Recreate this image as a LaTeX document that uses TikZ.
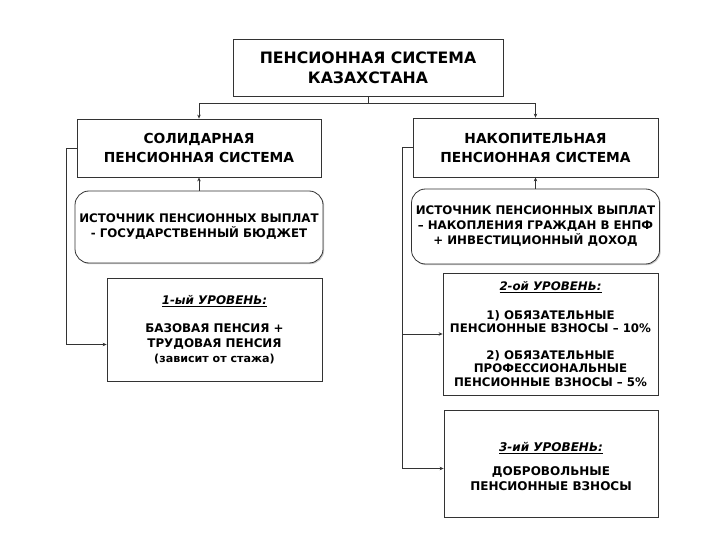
\documentclass[tikz,border=0pt]{standalone}
\usepackage{fontspec}
\setmainfont{DejaVu Sans}
\usetikzlibrary{arrows.meta,shadows,calc}
\begin{document}
\begin{tikzpicture}[x=1pt,y=-1pt,
  box/.style={draw=black!80, line width=0.8pt, fill=white, align=center, inner sep=0pt,
    drop shadow={shadow xshift=1.2pt, shadow yshift=-1.2pt, fill=black!35, opacity=0.6}},
  src/.style={box, rounded corners=14pt},
  arr/.style={draw=black!80, line width=0.8pt, -{Stealth[length=4pt,width=3.5pt]}},
  ttl/.style={font=\fontsize{15.7}{20}\selectfont\bfseries},
  sys/.style={font=\fontsize{13.8}{19}\selectfont\bfseries},
  srct/.style={font=\fontsize{11.8}{15}\selectfont\bfseries},
  lv1/.style={font=\fontsize{11.9}{15}\selectfont\bfseries},
  lv2/.style={font=\fontsize{11.8}{13.5}\selectfont\bfseries},
  lv3/.style={font=\fontsize{12}{14.5}\selectfont\bfseries}]
\path[use as bounding box] (0,0) rectangle (720,540);

\node[box, ttl, minimum width=270, minimum height=57] (top) at (368,67.5)
  {ПЕНСИОННАЯ СИСТЕМА\\КАЗАХСТАНА};
\node[box, sys, minimum width=244, minimum height=58] (sol) at (199,148)
  {СОЛИДАРНАЯ\\ПЕНСИОННАЯ СИСТЕМА};
\node[box, sys, minimum width=245, minimum height=59] (nak) at (535.5,147.5)
  {НАКОПИТЕЛЬНАЯ\\ПЕНСИОННАЯ СИСТЕМА};
\node[src, srct, minimum width=248, minimum height=72] (srcL) at (199,227)
  {ИСТОЧНИК ПЕНСИОННЫХ ВЫПЛАТ\\- ГОСУДАРСТВЕННЫЙ БЮДЖЕТ};
\node[src, srct, minimum width=248, minimum height=75] (srcR) at (535.5,226.5)
  {ИСТОЧНИК ПЕНСИОННЫХ ВЫПЛАТ\\– НАКОПЛЕНИЯ ГРАЖДАН В ЕНПФ\\+ ИНВЕСТИЦИОННЫЙ ДОХОД};
\node[box, lv1, minimum width=215, minimum height=103] (lvl1) at (214.5,329.5)
  {\underline{\itshape 1-ый УРОВЕНЬ:}\\[13pt]БАЗОВАЯ ПЕНСИЯ +\\ТРУДОВАЯ ПЕНСИЯ\\{\fontsize{11.1}{15}\selectfont(зависит от стажа)}};
\node[box, lv2, minimum width=215, minimum height=122] (lvl2) at (550.5,334)
  {\underline{\itshape 2-ой УРОВЕНЬ:}\\[15pt]1) ОБЯЗАТЕЛЬНЫЕ\\ПЕНСИОННЫЕ ВЗНОСЫ – 10\%\\[13pt]2) ОБЯЗАТЕЛЬНЫЕ\\ПРОФЕССИОНАЛЬНЫЕ\\ПЕНСИОННЫЕ ВЗНОСЫ – 5\%};
\node[box, lv3, minimum width=214, minimum height=107] (lvl3) at (551,463.5)
  {\mbox{}\\[0pt]\underline{\itshape 3-ий УРОВЕНЬ:}\\[10pt]ДОБРОВОЛЬНЫЕ\\ПЕНСИОННЫЕ ВЗНОСЫ};

\draw[arr] (top.south) -- ++(0,7) -| (sol.north);
\draw[arr] (top.south) -- ++(0,7) -| (nak.north);
\draw[arr] (srcL.north) -- (sol.south);
\draw[arr] (srcR.north) -- (nak.south);
\draw[arr] (sol.west) -- ++(-10,0) |- ($(lvl1.west)+(0,15)$);
\draw[arr] (nak.west) -- ++(-10,0) |- (lvl2.west);
\draw[arr] (nak.west) -- ++(-10,0) |- ($(lvl3.west)+(0,5)$);
\end{tikzpicture}
\end{document}
